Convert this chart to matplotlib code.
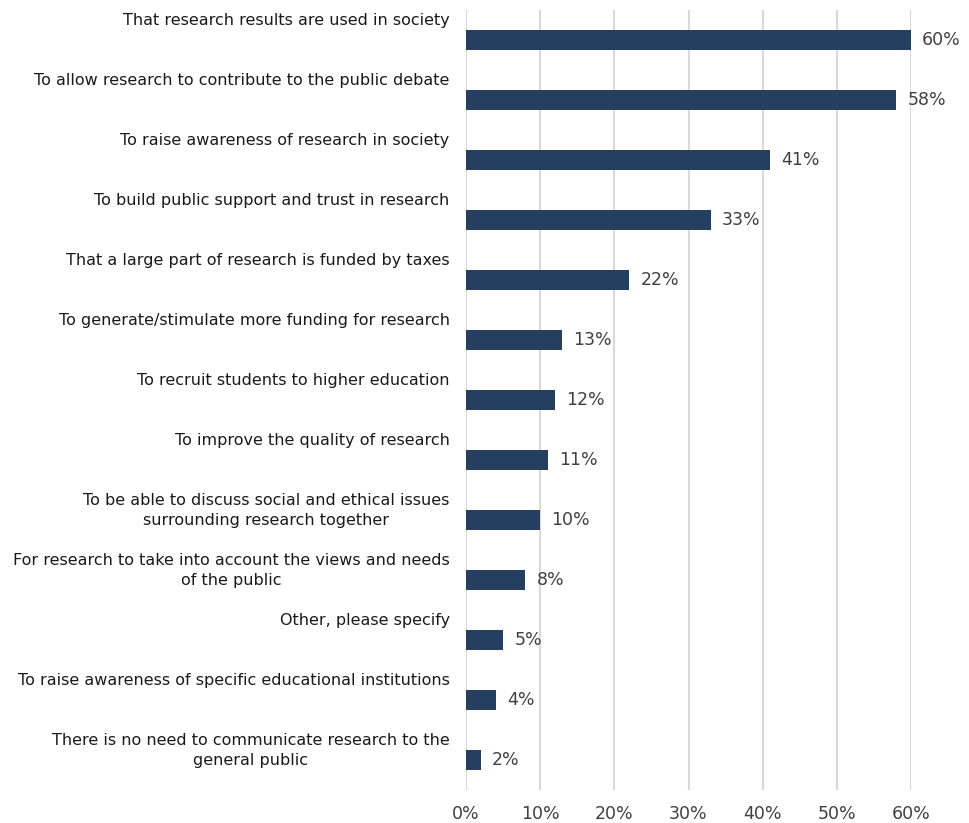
import numpy as np
import matplotlib.pyplot as plt

labels = [
    "That research results are used in society",
    "To allow research to contribute to the public debate",
    "To raise awareness of research in society",
    "To build public support and trust in research",
    "That a large part of research is funded by taxes",
    "To generate/stimulate more funding for research",
    "To recruit students to higher education",
    "To improve the quality of research",
    "To be able to discuss social and ethical issues\nsurrounding research together",
    "For research to take into account the views and needs\nof the public",
    "Other, please specify",
    "To raise awareness of specific educational institutions",
    "There is no need to communicate research to the\ngeneral public",
]
values = [60, 58, 41, 33, 22, 13, 12, 11, 10, 8, 5, 4, 2]
ticks = [0, 10, 20, 30, 40, 50, 60]

bar_color = "#243f60"
text_gray = "#404040"

fig = plt.figure(figsize=(9.69, 8.23), dpi=100)
ax = fig.add_axes([466 / 969, 1 - 790 / 823, (911 - 466) / 969, 780 / 823])

y = np.arange(len(values))
ax.barh(y, values, height=0.34, color=bar_color, zorder=3)

for yi, v in zip(y, values):
    ax.annotate(f"{v}%", (v, yi), xytext=(8, 0), textcoords="offset points",
                va="center", ha="left", fontsize=12.5, color=text_gray)

for yi, lab in zip(y, labels):
    ax.text(-2.2, yi - 0.45, lab, va="top", ha="right", multialignment="center",
            fontsize=11.5, color="#1a1a1a", linespacing=1.45)

ax.set_xlim(0, 60)
ax.set_ylim(len(values) - 0.5, -0.5)
ax.set_xticks(ticks)
ax.set_xticklabels([f"{t}%" for t in ticks], fontsize=12.5, color=text_gray)
ax.set_yticks([])
ax.tick_params(axis="x", length=0, pad=11)
ax.grid(axis="x", color="#d9d9d9", linewidth=1.5, zorder=0)
for s in ax.spines.values():
    s.set_visible(False)

fig.savefig("out.png", dpi=100)
